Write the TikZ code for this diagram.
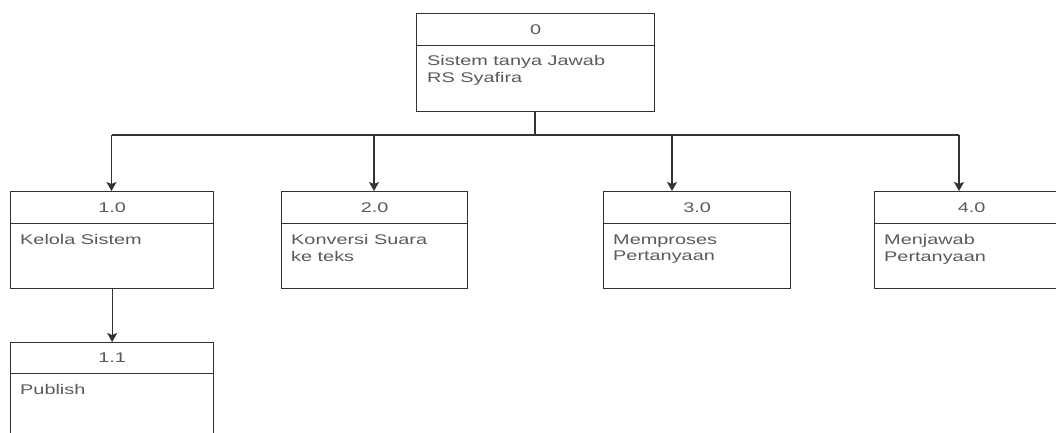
\documentclass[tikz,border=0pt]{standalone}
\usepackage{fontspec}
\setmainfont{Liberation Sans}[FakeStretch=1.42]
\usetikzlibrary{arrows.meta}
\definecolor{edge}{HTML}{333333}
\definecolor{txt}{HTML}{5A5A5A}
\tikzset{
  boxline/.style={draw=edge, line width=1.3pt, fill=white},
  hdr/.style={boxline, inner sep=0pt, font=\fontsize{14}{16.5}\selectfont, text=txt, anchor=north west},
  bdy/.style={boxline, inner sep=0pt, anchor=north west},
  lbl/.style={anchor=north west, inner sep=0pt, align=left, text=txt, font=\fontsize{14}{16.5}\selectfont},
  conn/.style={draw=edge, line width=1.3pt},
  arr/.style={conn, -{Stealth[length=9pt,width=10pt,inset=2pt]}},
}
\begin{document}
\begin{tikzpicture}[x=1pt,y=-1pt]
\clip (0,0) rectangle (1056,433);
\fill[white] (0,0) rectangle (1056,433);
% box 0
\node[hdr, minimum width=238pt, minimum height=32pt] (h0) at (416,13) {0};
\node[bdy, minimum width=238pt, minimum height=66pt] (b0) at (416,45) {};
\node[lbl] (t0) at (427,55.3) {Sistem tanya Jawab\\RS Syafira};
% box 1.0
\node[hdr, minimum width=203pt, minimum height=32pt] (h1) at (10,191) {1.0};
\node[bdy, minimum width=203pt, minimum height=65pt] (b1) at (10,223) {};
\node[lbl] (t1) at (20,234.2) {Kelola Sistem};
% box 2.0
\node[hdr, minimum width=186pt, minimum height=32pt] (h2) at (281,191) {2.0};
\node[bdy, minimum width=186pt, minimum height=65pt] (b2) at (281,223) {};
\node[lbl] (t2) at (291,234.2) {Konversi Suara\\ke teks};
% box 3.0
\node[hdr, minimum width=187pt, minimum height=32pt] (h3) at (603,191) {3.0};
\node[bdy, minimum width=187pt, minimum height=65pt] (b3) at (603,223) {};
\node[lbl] (t3) at (613,234.2) {Memproses\\Pertanyaan};
% box 4.0
\node[hdr, minimum width=194pt, minimum height=32pt] (h4) at (874,191) {4.0};
\node[bdy, minimum width=194pt, minimum height=65pt] (b4) at (874,223) {};
\node[lbl] (t4) at (884,234.2) {Menjawab\\Pertanyaan};
% box 1.1
\node[hdr, minimum width=203pt, minimum height=31pt] (h5) at (10,342) {1.1};
\node[bdy, minimum width=203pt, minimum height=70pt] (b5) at (10,373) {};
\node[lbl] (t5) at (20,383.7) {Publish};
% connectors
\coordinate (j) at (535,135);
\coordinate (c1) at (111.5,135);
\coordinate (c2) at (374,135);
\coordinate (c3) at (672,135);
\coordinate (c4) at (959,135);
\draw[conn] (b0.south -| j) -- (j);
\draw[conn] (c1) -- (c4);
\draw[arr] (c1) -- (c1 |- h1.north);
\draw[arr] (c2) -- (c2 |- h2.north);
\draw[arr] (c3) -- (c3 |- h3.north);
\draw[arr] (c4) -- (c4 |- h4.north);
\draw[arr] (b1.south) -- (h5.north);
\end{tikzpicture}
\end{document}
